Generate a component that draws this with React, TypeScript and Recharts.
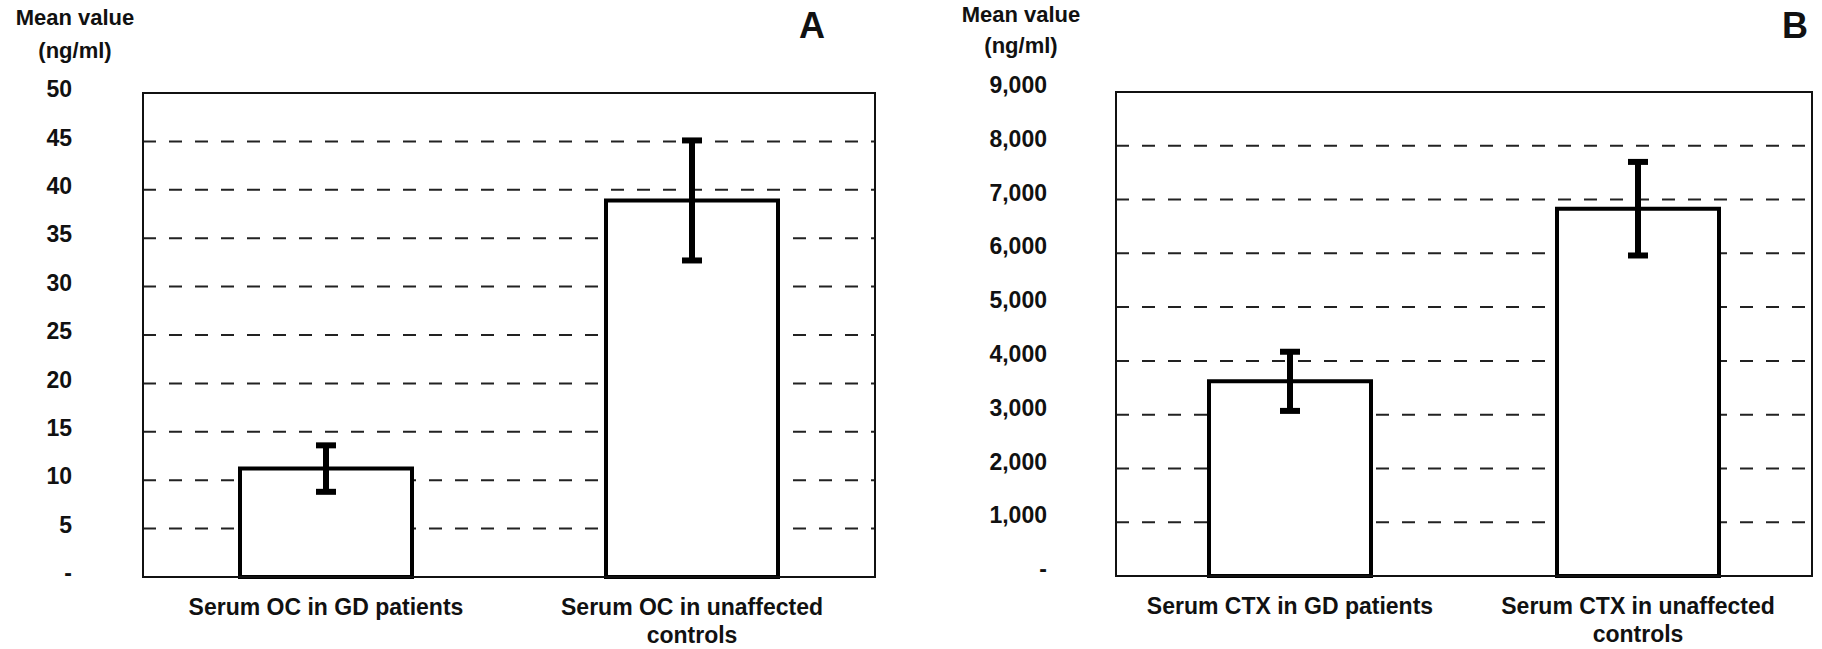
import React from 'react';
import { BarChart, Bar, XAxis, YAxis, CartesianGrid, ErrorBar, ReferenceArea } from 'recharts';

// panel A - osteocalcin
const categoriesA = ['Serum OC in GD patients', 'Serum OC in unaffected\ncontrols'];
const meansA = [11.2, 38.9];
const errorsA = [2.4, 6.2];
const ticksA = [0, 5, 10, 15, 20, 25, 30, 35, 40, 45, 50];

// panel B - CTX
const categoriesB = ['Serum CTX in GD patients', 'Serum CTX in unaffected\ncontrols'];
const meansB = [3620, 6830];
const errorsB = [550, 870];
const ticksB = [0, 1000, 2000, 3000, 4000, 5000, 6000, 7000, 8000, 9000];

const FONT = '"Liberation Sans", Arial, Helvetica, sans-serif';

const dataA = categoriesA.map((name, i) => ({ name, mean: meansA[i], err: errorsA[i] }));
const dataB = categoriesB.map((name, i) => ({ name, mean: meansB[i], err: errorsB[i] }));

const CategoryTick = (props: any) => {
  const { x, y, payload } = props;
  const lines: string[] = String(payload.value).split('\n');
  return (
    <text x={x} y={y + 36} textAnchor="middle" fontFamily={FONT} fontWeight={700} fontSize={23} fill="#111">
      {lines.map((line, i) => (
        <tspan key={i} x={x} dy={i === 0 ? 0 : 28}>{line}</tspan>
      ))}
    </text>
  );
};

const makeValueTick = (fmt: (v: number) => string, lift: number) => (props: any) => {
  const { x, y, payload } = props;
  return (
    <text x={x} y={y - lift} dy="0.355em" textAnchor="end" fontFamily={FONT} fontWeight={700} fontSize={23} fill="#111">
      {fmt(payload.value)}
    </text>
  );
};

const fmtA = (v: number) => (v === 0 ? '-' : String(v));
const fmtB = (v: number) => (v === 0 ? '-' : v.toLocaleString('en-US'));

const TickA = makeValueTick(fmtA, 4);
const TickB = makeValueTick(fmtB, 7);

export default function App() {
  return (
    <div style={{ position: 'absolute', left: 0, top: 0, width: 1822, height: 649, background: '#fff' }}>
      <div style={{ position: 'absolute', left: 0, top: 0 }}>
        <BarChart width={890} height={649} data={dataA} margin={{ top: 93, right: 15, bottom: 0, left: 0 }}>
          <CartesianGrid vertical={false} stroke="#222" strokeWidth={2} strokeDasharray="13 13" />
          <ReferenceArea y1={0} y2={50} fill="none" stroke="#111" strokeWidth={2} />
          <XAxis dataKey="name" interval={0} height={72} tickSize={0} tickLine={false}
            axisLine={{ stroke: '#111', strokeWidth: 2 }} tick={<CategoryTick />} />
          <YAxis domain={[0, 50]} ticks={ticksA} interval={0} width={143} tickSize={0} tickMargin={71}
            tickLine={false} axisLine={{ stroke: '#111', strokeWidth: 2 }} tick={<TickA />} />
          <Bar dataKey="mean" barSize={172} fill="#fff" stroke="#000" strokeWidth={4} isAnimationActive={false}>
            <ErrorBar dataKey="err" width={10} strokeWidth={6} stroke="#000" direction="y" />
          </Bar>
        </BarChart>
      </div>
      <div style={{ position: 'absolute', left: 900, top: 0 }}>
        <BarChart width={922} height={649} data={dataB} margin={{ top: 92, right: 10, bottom: 0, left: 0 }}>
          <CartesianGrid vertical={false} stroke="#222" strokeWidth={2} strokeDasharray="13 13" />
          <ReferenceArea y1={0} y2={9000} fill="none" stroke="#111" strokeWidth={2} />
          <XAxis dataKey="name" interval={0} height={73} tickSize={0} tickLine={false}
            axisLine={{ stroke: '#111', strokeWidth: 2 }} tick={<CategoryTick />} />
          <YAxis domain={[0, 9000]} ticks={ticksB} interval={0} width={216} tickSize={0} tickMargin={69}
            tickLine={false} axisLine={{ stroke: '#111', strokeWidth: 2 }} tick={<TickB />} />
          <Bar dataKey="mean" barSize={162} fill="#fff" stroke="#000" strokeWidth={4} isAnimationActive={false}>
            <ErrorBar dataKey="err" width={10} strokeWidth={6} stroke="#000" direction="y" />
          </Bar>
        </BarChart>
      </div>
      <svg width={1822} height={649} style={{ position: 'absolute', left: 0, top: 0, pointerEvents: 'none' }}
        fontFamily={FONT} fontWeight={700} fill="#111">
        <text x={75} y={25} textAnchor="middle" fontSize={22}>Mean value</text>
        <text x={75} y={58} textAnchor="middle" fontSize={22}>(ng/ml)</text>
        <text x={812} y={38} textAnchor="middle" fontSize={36}>A</text>
        <text x={1021} y={22} textAnchor="middle" fontSize={22}>Mean value</text>
        <text x={1021} y={53} textAnchor="middle" fontSize={22}>(ng/ml)</text>
        <text x={1795} y={38} textAnchor="middle" fontSize={36}>B</text>
      </svg>
    </div>
  );
}
